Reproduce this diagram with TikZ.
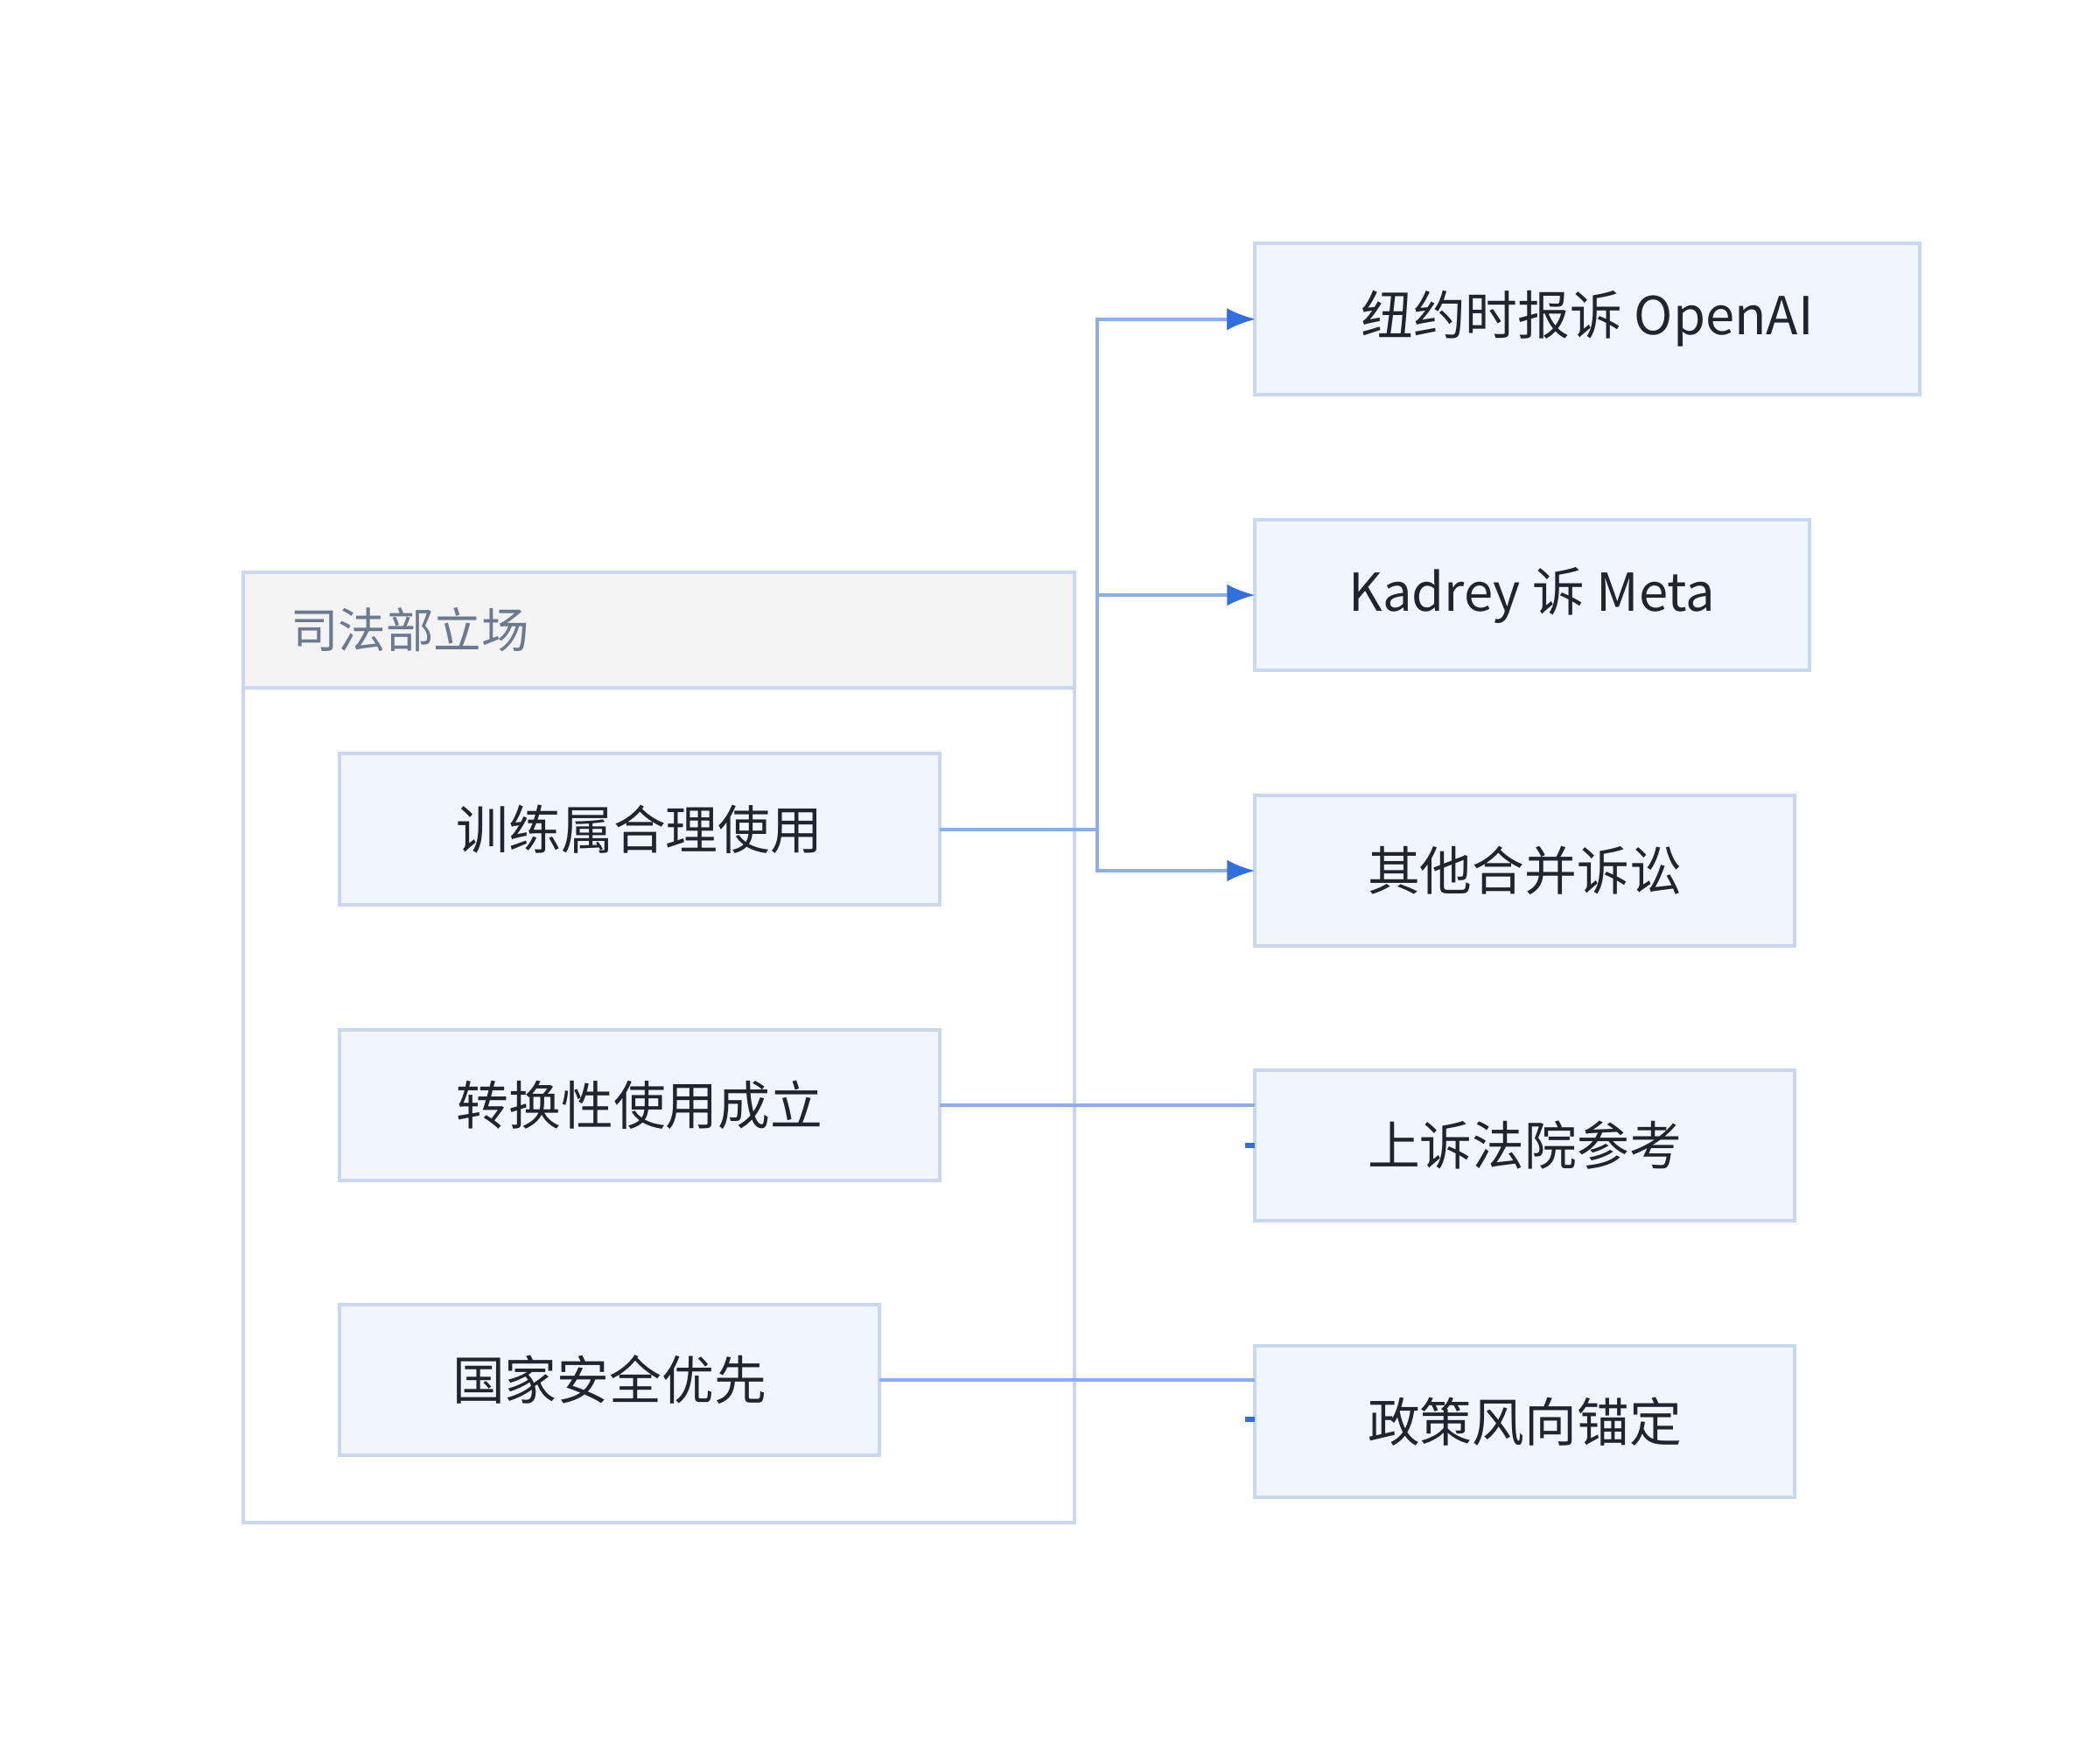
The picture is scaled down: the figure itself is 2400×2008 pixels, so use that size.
\documentclass[tikz,border=0pt]{standalone}
\usepackage{fontspec}
\setmainfont{Noto Sans CJK SC}
\usetikzlibrary{arrows.meta}
\definecolor{bfill}{HTML}{F0F5FE}
\definecolor{bline}{HTML}{C9D8F2}
\definecolor{cline}{HTML}{8BAEEE}
\definecolor{ahead}{HTML}{2F6FDE}
\definecolor{hfill}{HTML}{F3F3F3}
\definecolor{ttext}{HTML}{6B7A90}
\definecolor{ntext}{HTML}{1F2430}
\begin{document}
\begin{tikzpicture}[x=0.01cm,y=-0.01cm,
  box/.style={draw=bline,fill=bfill,line width=0.9pt,text=ntext,font=\fontsize{17}{20}\selectfont},
  conn/.style={draw=cline,line width=0.9pt},
  arr/.style={conn,-{Latex[length=9pt,width=7pt,color=ahead]}}]
\useasboundingbox (0,0) rectangle (2400,2008);
\fill[white] (0,0) rectangle (2400,2008);
% container
\draw[draw=bline,line width=0.9pt,fill=white] (278,654) rectangle (1228,1740);
\draw[draw=bline,line width=0.9pt,fill=hfill] (278,654) rectangle (1228,786);
\node[anchor=west,text=ttext,font=\fontsize{15.5}{18}\selectfont] (title) at (320,720) {司法部立场};
% source boxes
\path[box] (388,861) rectangle (1074,1034) node[midway,text=ntext] (s1) {训练属合理使用};
\path[box] (388,1177) rectangle (1074,1349) node[midway,text=ntext] (s2) {转换性使用成立};
\path[box] (388,1491) rectangle (1005,1663) node[midway,text=ntext] (s3) {国家安全优先};
% targets
\path[box] (1434,278) rectangle (2194,451) node[midway,text=ntext] (t1) {纽约时报诉 OpenAI};
\path[box] (1434,594) rectangle (2068,766) node[midway,text=ntext] (t2) {Kadrey 诉 Meta};
\path[box] (1434,909) rectangle (2051,1081) node[midway,text=ntext] (t3) {其他合并诉讼};
\path[box] (1434,1223) rectangle (2051,1395) node[midway,text=ntext] (t4) {上诉法院参考};
\path[box] (1434,1538) rectangle (2051,1711) node[midway,text=ntext] (t5) {政策风向锚定};
\coordinate (e1) at (1074,948);
\coordinate (e2) at (1074,1263);
\coordinate (e3) at (1005,1577);
\coordinate (b) at (1254,948);
\coordinate (w4) at (1434,1263);
\coordinate (w5) at (1434,1577);
\draw[conn] (e1) -- (b);
\draw[arr] (b) |- (t1.west -| 1434,0) ;
\draw[arr] (b) |- (1434,365);
\draw[arr] (b) |- (1434,680);
\draw[arr] (b) |- (1434,995);
\draw[conn] (e2) -- (w4);
\draw[conn] (e3) -- (w5);
\fill[ahead] (1423,1306) rectangle (1434,1312);
\fill[ahead] (1423,1619) rectangle (1434,1625);
\end{tikzpicture}
\end{document}
